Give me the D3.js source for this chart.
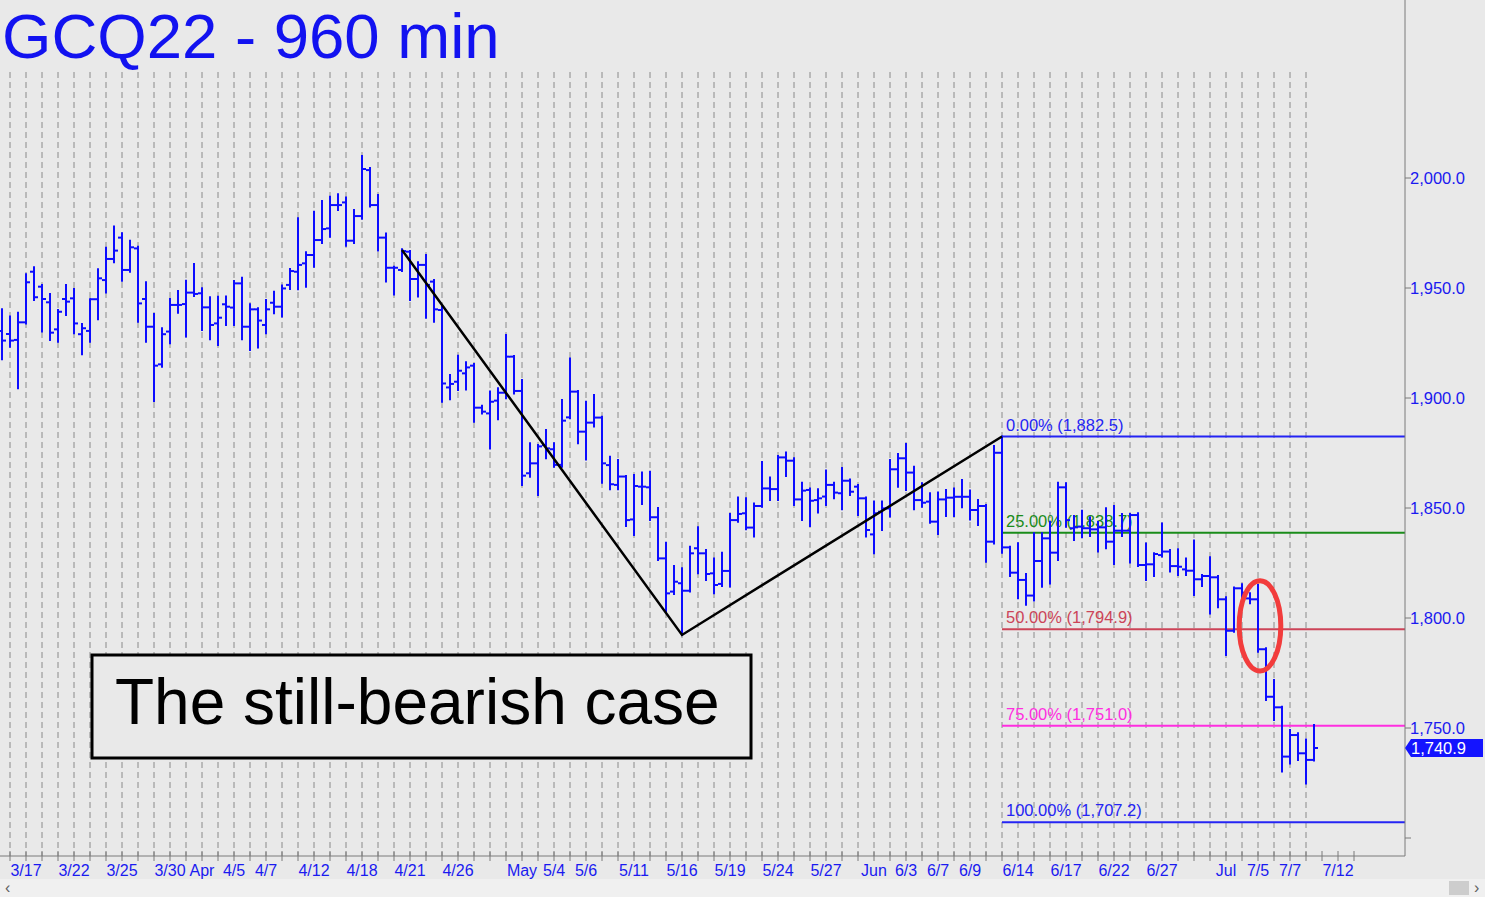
<!DOCTYPE html>
<html><head><meta charset="utf-8">
<script src="https://cdn.jsdelivr.net/npm/d3@7"></script>
<style>html,body{margin:0;padding:0;background:#e9e9e9;overflow:hidden}</style>
</head><body><svg id="c" width="1485" height="897"></svg>
<script>
// ---- data ----
const opens = [1930.5,1929.1,1926.4,1934.4,1957.4,1950.6,1943.5,1931.2,1945.0,1945.3,
1929.0,1930.5,1944.9,1953.6,1963.2,1972.9,1958.2,1968.0,1945.0,1932.4,
1915.3,1930.2,1942.3,1942.7,1947.9,1947.6,1941.2,1933.9,1942.6,1941.1,
1952.1,1932.4,1940.3,1933.2,1943.3,1941.5,1951.4,1957.4,1961.2,1965.0,
1971.8,1977.1,1987.7,1988.9,1971.5,1982.7,2003.6,1987.7,1972.9,1959.2,
1958.2,1966.5,1954.1,1960.5,1952.9,1940.0,1904.8,1907.4,1911.2,1914.7,
1895.6,1893.0,1898.8,1902.4,1918.8,1903.2,1865.8,1870.3,1878.6,1876.7,
1869.6,1891.2,1902.9,1884.7,1888.8,1891.1,1869.5,1860.5,1864.3,1844.8,
1859.7,1859.4,1845.8,1827.1,1812.0,1815.8,1812.4,1831.7,1829.4,1820.3,
1815.5,1821.4,1844.5,1847.6,1841.1,1850.9,1858.9,1858.6,1873.0,1871.5,
1853.9,1858.2,1853.6,1855.2,1860.5,1856.7,1862.4,1859.7,1854.4,1838.0,
1848.3,1849.8,1867.6,1872.6,1866.1,1853.6,1852.9,1843.8,1853.9,1854.7,
1855.1,1855.1,1849.1,1850.9,1834.7,1875.1,1832.1,1820.6,1817.3,1810.2,
1825.9,1836.2,1829.7,1859.4,1840.8,1841.5,1840.8,1840.3,1841.2,1834.7,
1839.7,1839.7,1846.8,1824.1,1824.4,1828.6,1830.2,1823.6,1822.1,1821.5,
1817.6,1819.1,1818.5,1808.5,1794.2,1813.5,1808.9,1808.5,1785.8,1764.2,
1759.4,1737.0,1746.8,1738.5,1735.5];
const highs = [1940.3,1937.0,1938.8,1956.2,1959.4,1951.4,1947.3,1940.0,1951.4,1949.6,
1933.6,1944.9,1958.5,1968.3,1977.9,1974.9,1971.5,1968.8,1952.6,1938.2,
1931.7,1945.0,1948.6,1953.3,1960.9,1949.9,1945.8,1946.0,1946.1,1953.2,
1954.7,1942.6,1940.8,1944.5,1948.3,1951.1,1958.6,1981.7,1966.2,1984.7,
1989.5,1991.5,1992.6,1991.1,1985.5,2010.0,2004.6,1992.3,1974.8,1959.7,
1967.6,1966.8,1961.7,1965.0,1953.6,1941.5,1910.5,1919.2,1916.2,1915.5,
1896.5,1902.9,1904.4,1928.6,1919.1,1908.2,1879.4,1878.6,1885.5,1879.4,
1899.1,1918.0,1903.2,1898.3,1901.4,1891.5,1873.3,1871.8,1864.5,1865.0,
1866.1,1866.5,1850.0,1834.2,1823.6,1822.6,1832.4,1841.2,1830.9,1827.1,
1829.7,1847.3,1854.8,1854.4,1852.1,1870.9,1863.9,1873.6,1875.2,1872.6,
1861.5,1858.9,1858.5,1867.0,1861.5,1868.2,1863.0,1860.5,1854.8,1852.9,
1852.9,1871.8,1874.5,1879.1,1868.8,1861.2,1856.7,1857.0,1858.2,1858.9,
1862.7,1857.9,1853.6,1851.4,1878.2,1882.5,1832.4,1834.0,1820.0,1838.5,
1838.5,1843.8,1861.5,1861.2,1846.4,1848.8,1845.8,1843.8,1849.9,1850.9,
1847.3,1847.3,1847.6,1833.9,1829.4,1843.0,1830.9,1831.2,1827.1,1835.2,
1819.5,1827.6,1819.1,1809.4,1813.9,1815.3,1811.2,1815.0,1786.2,1771.8,
1759.7,1749.1,1747.6,1744.8,1751.4];
const lows = [1917.6,1923.3,1904.4,1933.9,1944.6,1930.2,1926.4,1925.6,1937.7,1929.4,
1919.9,1925.6,1935.8,1948.0,1961.7,1953.3,1957.4,1934.7,1925.6,1898.6,
1914.2,1924.9,1938.8,1927.9,1946.4,1930.9,1926.7,1924.1,1933.2,1933.2,
1926.7,1921.8,1923.0,1929.4,1938.5,1937.0,1949.5,1949.4,1950.6,1959.7,
1970.5,1973.3,1985.5,1969.2,1970.5,1981.5,1987.0,1967.0,1952.9,1947.1,
1957.7,1944.5,1946.1,1936.5,1934.7,1898.3,1899.4,1903.6,1903.9,1889.2,
1893.0,1877.1,1890.3,1899.9,1902.1,1860.4,1864.2,1855.9,1872.6,1868.8,
1868.8,1890.8,1879.4,1872.1,1887.0,1861.5,1858.5,1858.5,1841.8,1837.7,
1851.8,1844.5,1826.4,1802.9,1810.9,1792.3,1812.0,1820.3,1817.3,1811.2,
1814.5,1814.3,1843.8,1840.3,1837.0,1850.6,1853.6,1853.6,1864.5,1851.4,
1844.5,1841.8,1847.9,1851.4,1854.4,1849.4,1855.9,1846.8,1837.0,1829.4,
1840.0,1846.1,1859.7,1858.2,1849.4,1850.6,1843.3,1838.2,1846.4,1846.4,
1850.3,1844.8,1842.3,1825.6,1833.9,1829.7,1819.1,1809.0,1806.0,1807.9,
1814.2,1815.7,1826.4,1841.5,1835.5,1836.7,1837.3,1830.2,1831.7,1824.6,
1837.3,1825.2,1823.6,1817.3,1819.1,1827.9,1821.1,1819.6,1819.6,1810.5,
1814.5,1802.1,1804.9,1783.2,1793.8,1808.2,1806.7,1784.7,1762.7,1753.6,
1730.2,1733.9,1735.5,1724.8,1735.2];
const closes = [1926.1,1926.1,1934.4,1952.6,1945.8,1945.0,1929.7,1939.2,1943.8,1933.9,
1931.7,1944.9,1954.4,1963.2,1967.0,1958.2,1968.5,1943.0,1932.4,1914.7,
1929.0,1942.3,1942.3,1947.9,1947.3,1941.2,1933.2,1936.5,1941.5,1952.1,
1932.4,1940.3,1935.2,1940.3,1941.5,1949.8,1957.7,1960.5,1965.0,1971.8,
1976.8,1987.7,1987.7,1971.5,1982.7,2004.1,1987.7,1972.9,1959.2,1959.2,
1966.8,1954.1,1960.5,1951.4,1940.3,1906.6,1906.4,1912.4,1913.9,1895.6,
1893.8,1898.3,1902.4,1918.8,1903.2,1864.7,1870.3,1878.0,1877.1,1869.6,
1889.7,1902.9,1884.7,1888.8,1891.1,1870.3,1860.8,1864.3,1844.5,1860.0,
1859.7,1845.8,1827.1,1811.2,1816.5,1812.4,1829.4,1829.4,1820.0,1815.0,
1821.4,1844.5,1847.3,1841.1,1850.9,1858.9,1858.6,1873.0,1871.5,1853.9,
1857.9,1853.3,1854.4,1860.5,1857.0,1862.4,1857.4,1854.4,1840.0,1847.6,
1849.8,1867.6,1872.6,1866.1,1853.6,1852.4,1843.8,1853.9,1854.7,1855.1,
1855.1,1849.1,1850.9,1834.7,1875.1,1832.1,1820.6,1817.3,1810.2,1825.9,
1836.2,1829.7,1859.4,1844.5,1841.2,1840.8,1840.3,1841.2,1834.7,1839.7,
1839.7,1846.8,1824.1,1824.4,1829.1,1830.2,1823.6,1823.3,1821.5,1817.6,
1819.1,1818.5,1808.5,1794.2,1813.5,1811.5,1808.5,1785.8,1764.2,1759.4,
1737.0,1746.8,1738.5,1735.5,1740.9];

const dateLabels = ["3/17","3/22","3/25","3/30","Apr","4/5","4/7","4/12","4/18","4/21","4/26",
"May","5/4","5/6","5/11","5/16","5/19","5/24","5/27","Jun","6/3","6/7","6/9",
"6/14","6/17","6/22","6/27","Jul","7/5","7/7","7/12"];
const dateIdx = [3,9,15,21,25,29,33,39,45,51,57,65,69,73,79,85,91,97,103,109,113,117,121,
127,133,139,145,153,157,161,167];

const yTicks = [1700,1750,1800,1850,1900,1950,2000];
const yLabels = [1750,1800,1850,1900,1950,2000];

const fibPct = [0,25,50,75,100];
const fibVal = [1882.5,1838.7,1794.9,1751.0,1707.2];
const fibColor = ["#2424f4","#1a8c1a","#cc4458","#ff2ee0","#2424f4"];

const pivotIdx = [50,85,125];
const pivotVal = [1967.3,1792.3,1882.5];

const lastPrice = 1740.9;
const title = "GCQ22 - 960 min";
const boxText = "The still-bearish case";
// red ellipse: centre (bar index, price) and radii (bars, price)
const ellipseC = [157.25,1796.4], ellipseR = [2.6,20.5];

// ---- drawing ----
const svg = d3.select("#c");
const FONT = "'Liberation Sans', Arial, Helvetica, sans-serif";
const BLUE = "#0c0cff";
const axisX = 1405, axisY = 856;

const x = d3.scaleLinear().domain([0,164]).range([2,1314]);
const y = d3.scaleLinear().domain([1700,2000]).range([838,178]);

svg.append("rect").attr("width",1485).attr("height",897).attr("fill","#e9e9e9");

// gridlines (every second bar)
const gridIdx = d3.range(1,164,2);
svg.append("g").selectAll("line").data(gridIdx).join("line")
  .attr("x1",d=>x(d)).attr("x2",d=>x(d)).attr("y1",72).attr("y2",axisY)
  .attr("stroke","#8a8a8a").attr("stroke-width",1).attr("stroke-dasharray","6,4");

// fib lines
const fg = svg.append("g");
fibVal.forEach((v,i)=>{
  fg.append("line").attr("x1",x(125)).attr("x2",axisX).attr("y1",y(v)).attr("y2",y(v))
    .attr("stroke",fibColor[i]).attr("stroke-width",2);
  fg.append("text").attr("x",x(125)+4).attr("y",y(v)-6)
    .attr("font-family",FONT).attr("font-size",16.5).attr("fill",fibColor[i])
    .text(d3.format(".2f")(fibPct[i])+"% ("+d3.format(",.1f")(v)+")");
});

// bars
const bars = svg.append("g").attr("stroke",BLUE).attr("stroke-width",2);
opens.forEach((o,i)=>{
  const cx = x(i);
  bars.append("line").attr("x1",cx).attr("x2",cx).attr("y1",y(highs[i])-1).attr("y2",y(lows[i])+1);
  bars.append("line").attr("x1",cx-4).attr("x2",cx).attr("y1",y(o)).attr("y2",y(o));
  bars.append("line").attr("x1",cx).attr("x2",cx+4).attr("y1",y(closes[i])).attr("y2",y(closes[i]));
});

// ABC lines
svg.append("path")
  .attr("d",d3.line()(pivotIdx.map((d,i)=>[x(d),y(pivotVal[i])])))
  .attr("fill","none").attr("stroke","#000").attr("stroke-width",2.5);

// red ellipse
svg.append("ellipse")
  .attr("cx",x(ellipseC[0])).attr("cy",y(ellipseC[1]))
  .attr("rx",x(ellipseC[0]+ellipseR[0])-x(ellipseC[0]))
  .attr("ry",y(ellipseC[1]-ellipseR[1])-y(ellipseC[1]))
  .attr("fill","none").attr("stroke","#f23c3c").attr("stroke-width",5);

// text box
svg.append("rect").attr("x",92).attr("y",655).attr("width",659).attr("height",103)
  .attr("fill","#e9e9e9").attr("stroke","#000").attr("stroke-width",3);
svg.append("text").attr("x",115).attr("y",724).attr("font-family",FONT)
  .attr("font-size",64).attr("fill","#000").text(boxText);

// title
svg.append("text").attr("x",2).attr("y",58).attr("font-family",FONT)
  .attr("font-size",63.5).attr("fill","#1212f0").text(title);

// y axis
svg.append("line").attr("x1",axisX).attr("x2",axisX).attr("y1",0).attr("y2",axisY)
  .attr("stroke","#7a7a7a");
svg.append("g").selectAll("line").data(yTicks).join("line")
  .attr("x1",axisX).attr("x2",axisX+6).attr("y1",d=>y(d)).attr("y2",d=>y(d))
  .attr("stroke","#7a7a7a");
svg.append("g").selectAll("text").data(yLabels).join("text")
  .attr("x",axisX+5).attr("y",d=>y(d)+6).attr("font-family",FONT).attr("font-size",16.5)
  .attr("fill","#1a1af0").text(d=>d3.format(",.1f")(d));

// last price box
const ly = y(lastPrice);
svg.append("path")
  .attr("d",`M${axisX},${ly} L${axisX+6},${ly-9} L1483,${ly-9} L1483,${ly+9} L${axisX+6},${ly+9} Z`)
  .attr("fill","#1414ff");
svg.append("text").attr("x",axisX+6).attr("y",ly+6).attr("font-family",FONT).attr("font-size",16.5)
  .attr("fill","#fff").text(d3.format(",.1f")(lastPrice));

// x axis
svg.append("line").attr("x1",0).attr("x2",axisX).attr("y1",axisY).attr("y2",axisY).attr("stroke","#7a7a7a");
svg.append("g").selectAll("line").data(d3.range(1,170,2)).join("line")
  .attr("x1",d=>x(d)).attr("x2",d=>x(d)).attr("y1",axisY-5).attr("y2",axisY+5)
  .attr("stroke","#7a7a7a");
svg.append("g").selectAll("text").data(dateLabels).join("text")
  .attr("x",(d,i)=>x(dateIdx[i])).attr("y",876).attr("text-anchor","middle")
  .attr("font-family",FONT).attr("font-size",16).attr("fill","#1a1af0").text(d=>d);

// scrollbar
svg.append("rect").attr("x",0).attr("y",879).attr("width",1485).attr("height",18).attr("fill","#f0f0f0");
svg.append("rect").attr("x",1449).attr("y",881).attr("width",20).attr("height",14).attr("fill","#cdcdcd");
svg.append("text").attr("x",5).attr("y",893).attr("font-family",FONT).attr("font-size",16).attr("fill","#606060").text("‹");
svg.append("text").attr("x",1474).attr("y",893).attr("font-family",FONT).attr("font-size",16).attr("fill","#606060").text("›");
</script></body></html>
